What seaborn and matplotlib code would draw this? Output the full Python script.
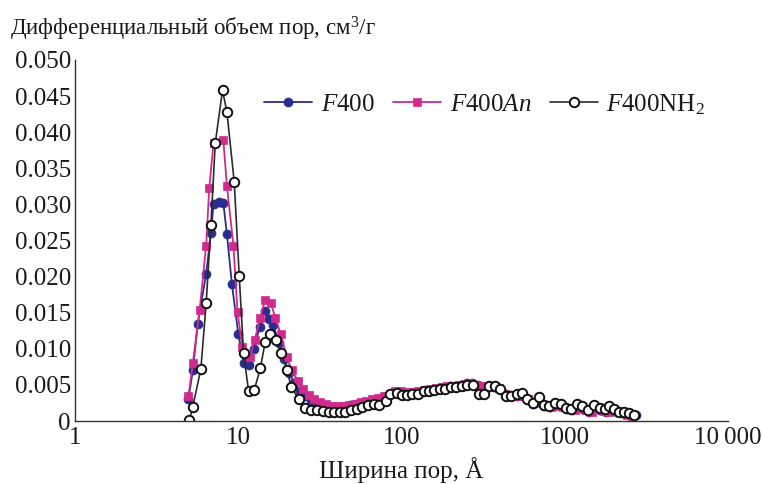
import matplotlib
matplotlib.use("Agg")
import matplotlib.pyplot as plt
import seaborn as sns
import pandas as pd

# ---------------- data ----------------
x_f400 = [4.95, 5.27, 5.65, 6.36, 6.8, 7.06, 7.6, 8.1, 8.52, 9.14,
          10.0, 10.8, 11.6, 12.5, 13.5, 14.6, 15.4, 16.4, 17.7, 19.0,
          20.5, 22.1, 23.9, 25.8, 27.9, 30.2, 32.7, 35.3, 38.2, 41.3,
          44.7, 48.3, 52.3, 56.5, 61.1, 66.1, 71.5, 77.3, 83.6, 90.4,
          97.8, 106, 114, 124, 134, 145, 157, 169, 183, 198,
          214, 232, 251, 271, 293, 317, 343, 371, 401, 434,
          469, 508, 549, 594, 642, 695, 751, 812, 879, 950,
          1028, 1111, 1202, 1300, 1406, 1521, 1645, 1779, 1924, 2081,
          2251, 2435, 2633, 2750]
y_f400 = [0.0030, 0.0070, 0.0135, 0.0204, 0.0260, 0.0301, 0.0304, 0.0302, 0.0259, 0.0190,
          0.0121, 0.0080, 0.0078, 0.0100, 0.0130, 0.0153, 0.0141, 0.0133, 0.0108, 0.0086,
          0.0066, 0.0052, 0.0042, 0.0034, 0.0029, 0.0025, 0.0022, 0.0021, 0.0020, 0.0020,
          0.0020, 0.0022, 0.0023, 0.0025, 0.0027, 0.0029, 0.0031, 0.0033, 0.0036, 0.0039,
          0.0040, 0.0039, 0.0039, 0.0040, 0.0042, 0.0043, 0.0045, 0.0046, 0.0047, 0.0048,
          0.0049, 0.0050, 0.0052, 0.0053, 0.0050, 0.0047, 0.0047, 0.0047, 0.0045, 0.0037,
          0.0034, 0.0035, 0.0036, 0.0029, 0.0024, 0.0029, 0.0021, 0.0020, 0.0022, 0.0021,
          0.0016, 0.0015, 0.0020, 0.0017, 0.0013, 0.0018, 0.0015, 0.0013, 0.0016, 0.0013,
          0.0011, 0.0010, 0.0009, 0.0008]

x_an = [4.95, 5.27, 5.8, 6.36, 6.64, 7.06, 8.1, 8.52, 9.35, 9.9,
        10.6, 11.8, 12.6, 13.6, 14.6, 15.8, 16.9, 18.2, 19.8, 21.3,
        23.3, 25.1, 27.0, 29.3, 31.8, 34.5, 37.4, 40.6, 44.0, 47.7,
        51.8, 56.2, 61.0, 66.2, 71.8, 77.9, 84.5, 91.7, 99.5, 108,
        117, 127, 138, 150, 162, 176, 191, 207, 225, 244,
        265, 287, 312, 338, 367, 398, 432, 469, 508, 552,
        598, 649, 704, 764, 829, 900, 976, 1059, 1149, 1247,
        1353, 1468, 1593, 1729, 1876, 2035, 2208, 2396, 2600]
y_an = [0.0034, 0.0080, 0.0154, 0.0243, 0.0323, 0.0385, 0.0389, 0.0326, 0.0242, 0.0151,
        0.0102, 0.0088, 0.0112, 0.0142, 0.0168, 0.0163, 0.0143, 0.0120, 0.0089, 0.0070,
        0.0055, 0.0044, 0.0036, 0.0030, 0.0026, 0.0023, 0.0021, 0.0021, 0.0021, 0.0022,
        0.0024, 0.0026, 0.0028, 0.0030, 0.0032, 0.0034, 0.0038, 0.0041, 0.0041, 0.0040,
        0.0040, 0.0041, 0.0043, 0.0045, 0.0046, 0.0047, 0.0048, 0.0049, 0.0050, 0.0051,
        0.0052, 0.0050, 0.0048, 0.0048, 0.0048, 0.0046, 0.0038, 0.0035, 0.0034, 0.0035,
        0.0030, 0.0025, 0.0027, 0.0021, 0.0020, 0.0021, 0.0020, 0.0016, 0.0015, 0.0018,
        0.0015, 0.0013, 0.0016, 0.0014, 0.0012, 0.0014, 0.0011, 0.0009, 0.0006]

x_nh2 = [5.02, 5.27, 5.9, 6.36, 6.8, 7.23, 8.01, 8.52, 9.45, 10.14,
         10.78, 11.57, 12.54, 13.65, 14.64, 15.72, 17.03, 18.35, 19.9, 21.1,
         23.4, 25.8, 27.9, 30.4, 32.9, 35.8, 38.4, 41.8, 45.3, 49.1,
         53.5, 57.4, 62.1, 67.6, 72.6, 79.8, 85.6, 93.2, 101, 108,
         116, 127, 137, 147, 158, 172, 186, 200, 217, 236,
         253, 275, 298, 320, 343, 372, 401, 435, 471, 508,
         550, 590, 642, 695, 746, 801, 868, 945, 1014, 1088,
         1196, 1284, 1390, 1513, 1648, 1760, 1870, 2006, 2154, 2311,
         2482, 2663]
y_nh2 = [0.0001, 0.0020, 0.0072, 0.0163, 0.0271, 0.0385, 0.0458, 0.0428, 0.0331, 0.0201,
         0.0094, 0.0041, 0.0043, 0.0073, 0.0110, 0.0121, 0.0112, 0.0094, 0.0071, 0.0047,
         0.0031, 0.0018, 0.0015, 0.0015, 0.0014, 0.0013, 0.0012, 0.0012, 0.0013, 0.0015,
         0.0017, 0.0020, 0.0022, 0.0024, 0.0022, 0.0028, 0.0037, 0.0039, 0.0036, 0.0036,
         0.0037, 0.0038, 0.0041, 0.0042, 0.0043, 0.0044, 0.0045, 0.0047, 0.0047, 0.0048,
         0.0050, 0.0050, 0.0037, 0.0037, 0.0048, 0.0048, 0.0044, 0.0034, 0.0035, 0.0037,
         0.0039, 0.0030, 0.0025, 0.0033, 0.0022, 0.0021, 0.0025, 0.0024, 0.0018, 0.0016,
         0.0024, 0.0021, 0.0015, 0.0022, 0.0018, 0.0016, 0.0021, 0.0016, 0.0013, 0.0012,
         0.0011, 0.0008]

x_ticks = [1, 10, 100, 1000, 10000]
x_tick_labels = ["1", "10", "100", "1000", "10\u2009000"]
y_ticks = [0, 0.005, 0.010, 0.015, 0.020, 0.025, 0.030, 0.035, 0.040, 0.045, 0.050]
y_tick_labels = ["0", "0.005", "0.010", "0.015", "0.020", "0.025", "0.030",
                 "0.035", "0.040", "0.045", "0.050"]

title_text = "Дифференциальный объем пор, см$^3$/г"
xlabel_text = "Ширина пор, Å"
labels = [r"$\mathit{F}\mathrm{400}$", r"$\mathit{F}\mathrm{400}\mathit{An}$",
          r"$\mathit{F}\mathrm{400NH}_2$"]

# ---------------- style ----------------
sns.set_style("white")
plt.rcParams["font.family"] = ["Liberation Serif", "DejaVu Serif"]
plt.rcParams["mathtext.fontset"] = "custom"
plt.rcParams["mathtext.rm"] = "Liberation Serif"
plt.rcParams["mathtext.it"] = "Liberation Serif:italic"
plt.rcParams["mathtext.bf"] = "Liberation Serif:bold"

c_blue = "#2a2d8c"
c_mag = "#d12a8e"
c_blk = "#2b2b2b"

fig = plt.figure(figsize=(7.62, 4.84), dpi=100)
ax = fig.add_axes([75 / 762, 1 - 421 / 484, (728 - 75) / 762, (421 - 60) / 484])

df1 = pd.DataFrame({"x": x_f400, "y": y_f400})
df2 = pd.DataFrame({"x": x_an, "y": y_an})
df3 = pd.DataFrame({"x": x_nh2, "y": y_nh2})

sns.lineplot(data=df1, x="x", y="y", ax=ax, color=c_blue, linewidth=1.3,
             marker="o", markersize=6.5, markerfacecolor=c_blue,
             markeredgecolor=c_blue, markeredgewidth=0.5, errorbar=None,
             label=labels[0])
sns.lineplot(data=df2, x="x", y="y", ax=ax, color=c_mag, linewidth=1.3,
             marker="s", markersize=6, markerfacecolor=c_mag,
             markeredgecolor=c_mag, markeredgewidth=0.5, errorbar=None,
             label=labels[1])
sns.lineplot(data=df3, x="x", y="y", ax=ax, color=c_blk, linewidth=1.2,
             marker="o", markersize=6.8, markerfacecolor="white",
             markeredgecolor="#111111", markeredgewidth=1.4, errorbar=None,
             label=labels[2])

ax.set_xscale("log")
ax.set_xlim(1, 10000)
ax.set_ylim(0, 0.05)
ax.set_xticks(x_ticks)
ax.set_xticklabels(x_tick_labels)
ax.xaxis.set_minor_locator(matplotlib.ticker.NullLocator())
ax.set_yticks(y_ticks)
ax.set_yticklabels(y_tick_labels)
ax.tick_params(axis="both", direction="in", length=7, width=1, color="#333333",
               labelsize=18, labelcolor="#1a1a1a")
ax.tick_params(axis="x", pad=4)
ax.tick_params(axis="y", pad=3)
for s in ["top", "right"]:
    ax.spines[s].set_visible(False)
for s in ["left", "bottom"]:
    ax.spines[s].set_color("#333333")
    ax.spines[s].set_linewidth(1.0)

ax.set_xlabel(xlabel_text, fontsize=18, color="#1a1a1a", labelpad=6)
ax.set_ylabel("")
fig.text(10 / 762, 1 - 29 / 484, title_text, fontsize=16.5, color="#1a1a1a",
         ha="left", va="center")

leg = ax.legend(loc="center left", bbox_to_anchor=(0.29, 0.877), ncol=3,
                frameon=False, fontsize=18, handlelength=1.9,
                handletextpad=0.35, columnspacing=0.75, borderaxespad=0,
                borderpad=0)
for t in leg.get_texts():
    t.set_color("#1a1a1a")

fig.savefig("out.png", dpi=100)
